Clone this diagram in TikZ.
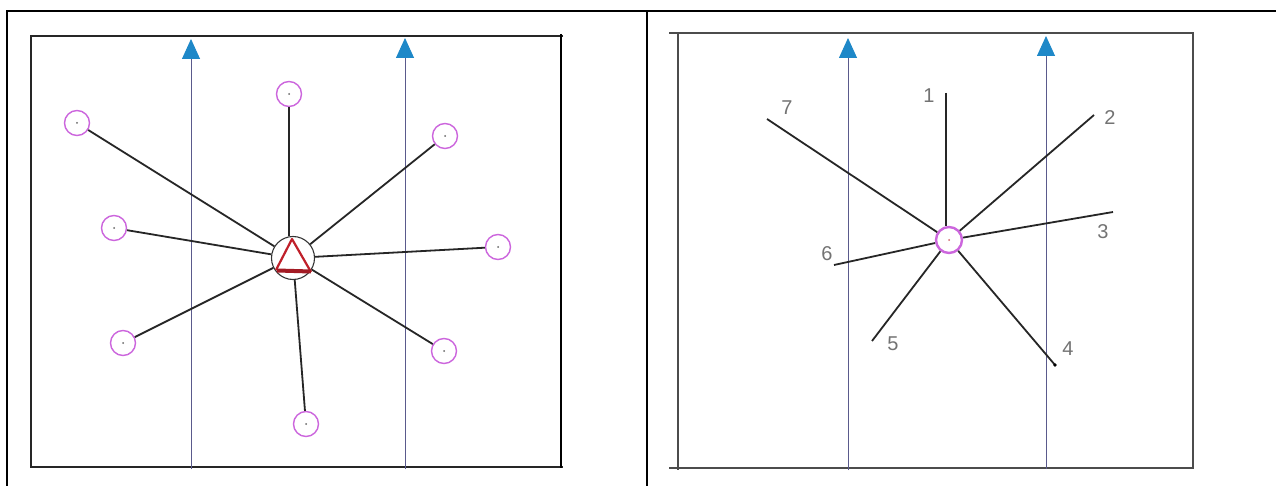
\documentclass[tikz,border=0pt]{standalone}
\usepackage{fontspec}
\setmainfont{Liberation Sans}
\usetikzlibrary{arrows.meta}
\definecolor{pinkc}{HTML}{CC66DD}
\definecolor{flowline}{HTML}{5A5A8C}
\definecolor{arrowblue}{HTML}{1E88C8}
\definecolor{tri}{HTML}{C0202A}
\tikzset{
  frameline/.style={line width=2.4pt, black},
  flow/.style={draw=flowline, line width=0.9pt, -{Triangle[width=18pt,length=20pt,color=arrowblue,fill=arrowblue]}},
  pinkcirc/.style={circle, draw=pinkc, line width=1.4pt, minimum size=25pt, inner sep=0pt},
  hubcirc/.style={circle, draw=black!80, line width=1.1pt, minimum size=43pt, inner sep=0pt},
  hubpink/.style={circle, draw=pinkc, line width=2.4pt, minimum size=26pt, inner sep=0pt},
  spoke/.style={draw=black!85, line width=1.8pt},
  lab/.style={text=black!55, font=\fontsize{20}{20}\selectfont, inner sep=0pt}
}
\begin{document}
\begin{tikzpicture}[x=1pt,y=-1pt]
\useasboundingbox (0,0) rectangle (1276,486);
\fill[white] (0,0) rectangle (1276,486);
% table lines
\draw[frameline] (7,486) -- (7,11) -- (1276,11);
\draw[frameline] (647,11) -- (647,486);
% left frame
\draw[line width=1.9pt, black!85] (563,36) -- (31,36) -- (31,467) -- (563,467);
\draw[line width=2.8pt, black] (561,34) -- (561,468);
% right frame
\draw[line width=2pt, black!70] (669,33) -- (1193,33) -- (1193,468) -- (669,468);
\draw[line width=2pt, black!70] (678,33) -- (678,470);
% flow lines
\coordinate (fa0) at (191,469); \coordinate (fa1) at (191,39);
\coordinate (fb0) at (405,469); \coordinate (fb1) at (405,38);
\coordinate (fc0) at (848,470); \coordinate (fc1) at (848,38);
\coordinate (fd0) at (1046,469); \coordinate (fd1) at (1046,36);
\draw[flow] (fa0) -- (fa1);
\draw[flow] (fb0) -- (fb1);
\draw[flow] (fc0) -- (fc1);
\draw[flow] (fd0) -- (fd1);
% left panel
\node[hubcirc] (hub) at (293,258) {};
\node[pinkcirc] (c1) at (289,94) {};
\fill[black!60] (c1) circle (1pt);
\draw[spoke] (c1) -- (hub.north -| c1);
\foreach \n/\x/\y in {c2/77/123, c3/445/136, c4/114/228, c5/498/247, c6/123/343, c7/444/351, c8/306/424}{
  \node[pinkcirc] (\n) at (\x,\y) {};
  \fill[black!60] (\n) circle (1pt);
  \draw[spoke] (\n) -- (hub);
}
\draw[tri, line width=2.2pt, line join=round] (276,270) -- (292,239) -- (311,272);
\draw[tri!85!black, line width=4pt] (277,270.5) -- (311,271.5);
% right panel
\node[hubpink] (hubR) at (949,240) {};
\fill[tri!70] (hubR) circle (1pt);
\coordinate (e1) at (946,93);
\coordinate (e2) at (1094,115);
\coordinate (e3) at (1113,212);
\coordinate (e4) at (1055,365);
\coordinate (e5) at (872,341);
\coordinate (e6) at (834,265);
\coordinate (e7) at (767,119);
\draw[spoke] (e1) -- (e1 |- hubR.north);
\foreach \e in {e2,e3,e4,e5,e6,e7}{ \draw[spoke] (hubR) -- (\e); }
\fill[black] (e4) circle (1.8pt);
\node[lab] (l1) at (929,96) {1};
\node[lab] (l2) at (1110,118) {2};
\node[lab] (l3) at (1103,232) {3};
\node[lab] (l4) at (1068,349) {4};
\node[lab] (l5) at (893,344) {5};
\node[lab] (l6) at (827,254) {6};
\node[lab] (l7) at (787,108) {7};
\end{tikzpicture}
\end{document}
